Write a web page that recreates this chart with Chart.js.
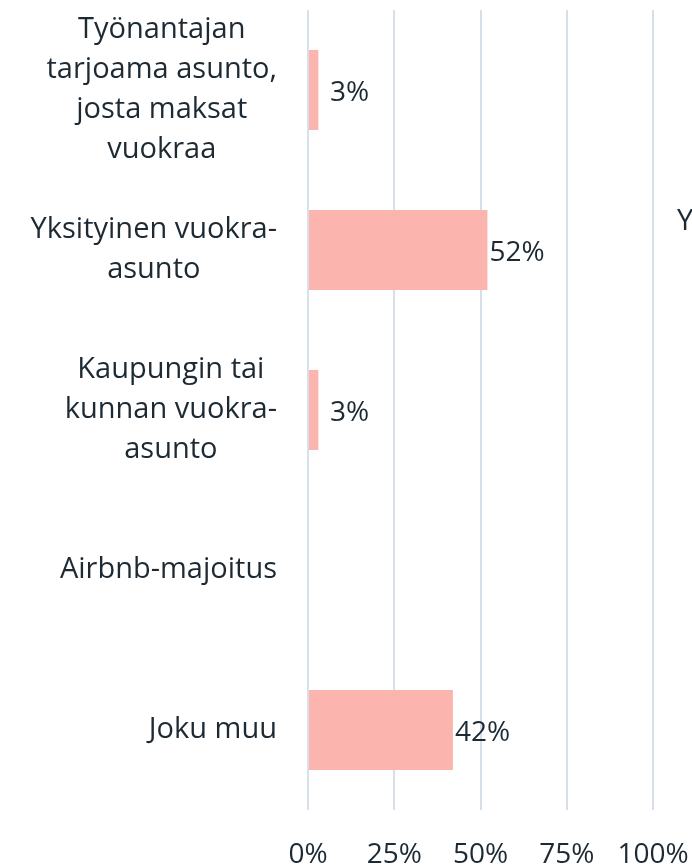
<!DOCTYPE html>
<html>
<head>
<meta charset="utf-8">
<script src="https://cdn.jsdelivr.net/npm/chart.js@4/dist/chart.umd.min.js"></script>
<style>
  html, body { margin: 0; padding: 0; background: #fff; overflow: hidden; }
  #wrap { position: relative; width: 692px; height: 868px; }
  #cut { position: absolute; left: 677px; top: 199px; font: 29px "Open Sans", sans-serif; color: #1e2a33; white-space: nowrap; }
</style>
</head>
<body>
<div id="wrap">
  <canvas id="grafico" width="692" height="868"></canvas>
  <span id="cut">Y</span>
</div>
<script>
const kategoriat = [
  ["Työnantajan", "tarjoama asunto,", "josta maksat", "vuokraa"],
  ["Yksityinen vuokra-", "asunto"],
  ["Kaupungin tai", "kunnan vuokra-", "asunto"],
  ["Airbnb-majoitus"],
  ["Joku muu"]
];
const osuudet = [3, 52, 3, 0, 42];
const xTikit = [0, 25, 50, 75, 100];

const tekstiVari = "#1e2a33";
const fontti = "'Open Sans', sans-serif";

// category labels: block right-aligned, lines centered inside the block
const kategoriaPlugin = {
  id: "kategoriat",
  afterDraw(chart) {
    const ctx = chart.ctx;
    const y = chart.scales.y;
    const oikea = y.right - 31;
    ctx.save();
    ctx.font = "29px " + fontti;
    ctx.fillStyle = tekstiVari;
    ctx.textAlign = "center";
    ctx.textBaseline = "middle";
    kategoriat.forEach((rivit, i) => {
      const leveys = Math.max(...rivit.map(r => ctx.measureText(r).width));
      const keski = oikea - leveys / 2;
      const yy = y.getPixelForTick(i);
      const alku = yy - (rivit.length - 1) * 20;
      rivit.forEach((r, j) => ctx.fillText(r, keski, alku + j * 40));
    });
    ctx.restore();
  }
};

const arvoPlugin = {
  id: "arvot",
  afterDatasetsDraw(chart) {
    const ctx = chart.ctx;
    const meta = chart.getDatasetMeta(0);
    const nolla = chart.scales.x.getPixelForValue(0);
    ctx.save();
    ctx.font = "28px " + fontti;
    ctx.fillStyle = tekstiVari;
    ctx.textAlign = "left";
    ctx.textBaseline = "middle";
    meta.data.forEach((bar, i) => {
      if (!osuudet[i]) return;
      const x = Math.max(bar.x + 2, nolla + 22);
      ctx.fillText(osuudet[i] + "%", x, bar.y + 3);
    });
    ctx.restore();
  }
};

const ctx = document.getElementById("grafico").getContext("2d");
new Chart(ctx, {
  type: "bar",
  data: {
    labels: kategoriat.map(k => k.join(" ")),
    datasets: [{
      data: osuudet,
      backgroundColor: "#fbb4ae",
      borderWidth: 0,
      barPercentage: 0.5,
      categoryPercentage: 1
    }]
  },
  options: {
    indexAxis: "y",
    responsive: false,
    animation: false,
    layout: { padding: { top: 10, right: 39, left: 0, bottom: 0 } },
    plugins: { legend: { display: false }, tooltip: { enabled: false } },
    scales: {
      x: {
        min: 0,
        max: 100,
        afterBuildTicks: s => { s.ticks = xTikit.map(v => ({ value: v })); },
        border: { display: false },
        grid: { color: "#d5e0ea", lineWidth: 2, drawTicks: false },
        ticks: {
          padding: 28,
          color: tekstiVari,
          font: { family: fontti, size: 28 },
          callback: v => v + "%"
        },
        afterFit: s => { s.height = 58; s.paddingLeft = 0; s.paddingRight = 0; }
      },
      y: {
        border: { display: false },
        grid: { display: false },
        ticks: { display: false },
        afterFit: s => { s.width = 308; }
      }
    }
  },
  plugins: [kategoriaPlugin, arvoPlugin]
});
</script>
</body>
</html>
